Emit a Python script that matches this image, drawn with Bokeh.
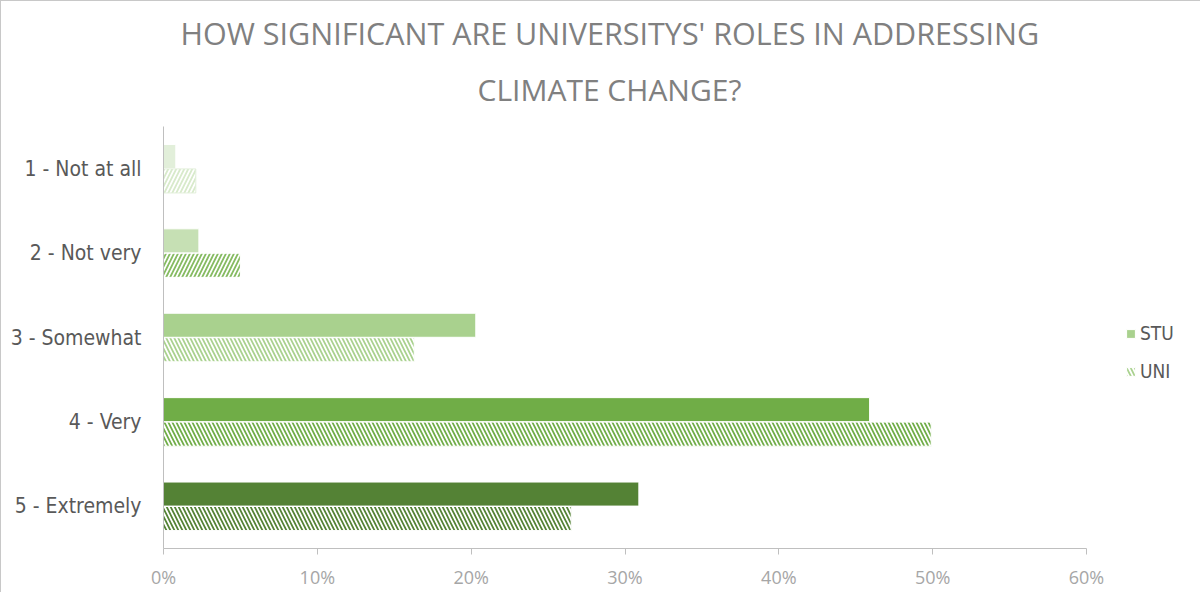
from bokeh.plotting import figure
from bokeh.models import (ColumnDataSource, FactorRange, Range1d, Legend, LegendItem,
                          Title, NumeralTickFormatter, FixedTicker)
from bokeh.transform import dodge
from bokeh.embed import file_html
from bokeh.resources import INLINE

# ---- data ----
categories = ["1 - Not at all", "2 - Not very", "3 - Somewhat", "4 - Very", "5 - Extremely"]
stu = [0.008, 0.023, 0.203, 0.459, 0.309]
uni = [0.021, 0.050, 0.163, 0.499, 0.265]
x_ticks = [0, 0.1, 0.2, 0.3, 0.4, 0.5, 0.6]
title_line1 = "HOW SIGNIFICANT ARE UNIVERSITYS' ROLES IN ADDRESSING"
title_line2 = "CLIMATE CHANGE?"

# ---- styles ----
bar_colors = ["#e2efda", "#c6e0b4", "#a9d18e", "#70ad47", "#548235"]
uni_fill = ["#ffffff", "#ffffff", "#a9d18e", "#70ad47", "#548235"]
uni_hatch_col = ["#d8eacb", "#86bb62", "#ffffff", "#ffffff", "#ffffff"]
uni_hatch_pat = ["/", "/", "\\", "\\", "\\"]
uni_line = ["#e2efda", "#ffffff", "#ffffff", "#ffffff", "#ffffff"]

src = ColumnDataSource(dict(cat=categories, stu=stu, uni=uni, color=bar_colors,
                            ufill=uni_fill, uhatch=uni_hatch_col, upat=uni_hatch_pat,
                            uline=uni_line))

FONT = "DejaVu Sans Condensed, Liberation Sans Narrow, Roboto, sans-serif"

p = figure(y_range=FactorRange(factors=list(reversed(categories))),
           x_range=Range1d(0, 0.6),
           frame_width=923, frame_height=422,
           output_backend="svg", toolbar_location=None,
           min_border_left=162, min_border_right=112, min_border_bottom=44,
           min_border_top=125)
p.styles = {"border-left": "1px solid #c8c8c8", "border-top": "1px solid #c8c8c8"}

r_stu = p.hbar(y=dodge("cat", 0.145, range=p.y_range), right="stu", left=0, height=0.285,
               source=src, fill_color="color", line_color="white", line_width=1)
r_uni = p.hbar(y=dodge("cat", -0.145, range=p.y_range), right="uni", left=0, height=0.285,
               source=src, fill_color="ufill", line_color="uline", line_width=1,
               hatch_pattern="upat", hatch_color="uhatch", hatch_scale=8, hatch_weight=1.8)

legend = Legend(items=[LegendItem(label="STU", renderers=[r_stu], index=2),
                       LegendItem(label="UNI", renderers=[r_uni], index=2)],
                location=(39, 166), border_line_color=None, background_fill_alpha=0,
                label_text_font=FONT, label_text_font_size="19px", label_text_color="#595959",
                glyph_width=11, glyph_height=11, spacing=16, margin=0, padding=0,
                label_standoff=4)
p.add_layout(legend, "right")

p.add_layout(Title(text=title_line2, align="left", offset=314, vertical_align="top",
                   text_font_size="30px", text_font="Open Sans", text_font_style="normal",
                   text_color="#808080", standoff=30), "above")
p.add_layout(Title(text=title_line1, align="left", offset=17,
                   text_font_size="30.5px", text_font="Open Sans", text_font_style="normal",
                   text_color="#808080", standoff=0), "above")

p.xgrid.visible = False
p.ygrid.visible = False
p.outline_line_color = None

p.xaxis.ticker = FixedTicker(ticks=x_ticks)
p.xaxis.formatter = NumeralTickFormatter(format="0%")
p.xaxis.axis_line_color = "#bfbfbf"
p.xaxis.major_tick_line_color = "#bfbfbf"
p.xaxis.major_tick_out = 6
p.xaxis.major_tick_in = 0
p.xaxis.minor_tick_line_color = None
p.xaxis.major_label_text_color = "#a6a6a6"
p.xaxis.major_label_text_font = "Open Sans"
p.xaxis.major_label_text_font_size = "18px"
p.xaxis.major_label_standoff = 10

p.yaxis.axis_line_color = "#bfbfbf"
p.yaxis.major_tick_line_color = None
p.yaxis.minor_tick_line_color = None
p.yaxis.major_label_text_color = "#595959"
p.yaxis.major_label_text_font = FONT
p.yaxis.major_label_text_font_size = "21px"
p.yaxis.major_label_standoff = 16
p.y_range.range_padding = 0

open("out.html", "w").write(file_html(p, INLINE))
